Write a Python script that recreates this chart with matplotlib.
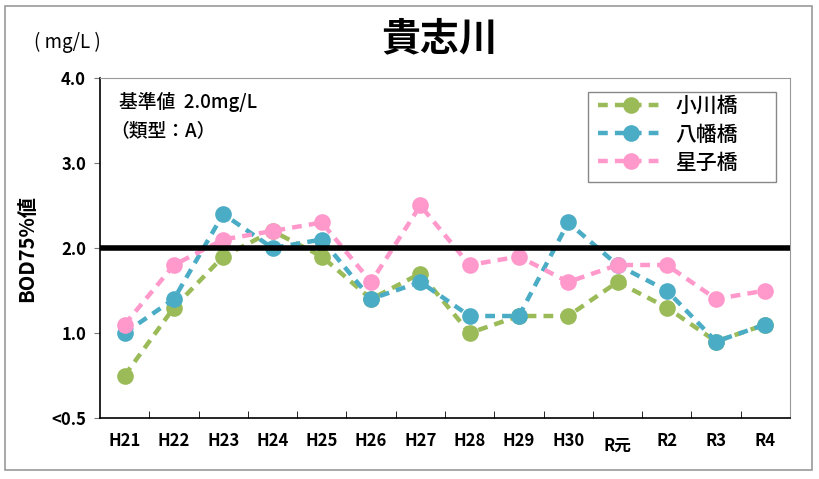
# 貴志川 BOD75%値 trend chart, three monitoring points vs. the 2.0 mg/L standard.

import matplotlib
matplotlib.use("Agg")
import matplotlib.pyplot as plt
from matplotlib.patches import Rectangle

plt.rcParams['font.family'] = ['Noto Sans CJK JP', 'DejaVu Sans']

# --- Data --------------------------------------------------------------------
YEARS = ["H21", "H22", "H23", "H24", "H25", "H26", "H27",
         "H28", "H29", "H30", "R元", "R2", "R3", "R4"]
OGAWA = [0.5, 1.3, 1.9, 2.2, 1.9, 1.4, 1.7, 1.0, 1.2, 1.2, 1.6, 1.3, 0.9, 1.1]
YAWATA = [1.0, 1.4, 2.4, 2.0, 2.1, 1.4, 1.6, 1.2, 1.2, 2.3, 1.8, 1.5, 0.9, 1.1]
HOSHIKO = [1.1, 1.8, 2.1, 2.2, 2.3, 1.6, 2.5, 1.8, 1.9, 1.6, 1.8, 1.8, 1.4, 1.5]
SERIES_NAMES = ["小川橋", "八幡橋", "星子橋"]
STANDARD = 2.0
Y_TICKS = [0.0, 1.0, 2.0, 3.0, 4.0]
Y_TICK_LABELS = ["<0.5", "1.0", "2.0", "3.0", "4.0"]

# --- Style -------------------------------------------------------------------
COLORS = ["#9BBB59", "#4BACC6", "#FF99CC"]
W, H = 819, 479  # figure size in pixels, used to place the legend box

fig = plt.figure(figsize=(8.19, 4.79), dpi=100)
ax = fig.add_axes([0.1221, 0.1273, 0.8425, 0.7099])

x = list(range(len(YEARS)))
for values, name, color in zip([OGAWA, YAWATA, HOSHIKO], SERIES_NAMES, COLORS):
    ax.plot(x, values, color=color, linestyle=(0, (2.2, 1.6)), linewidth=3.2,
            marker="o", markersize=12, markeredgewidth=0, label=name,
            zorder=3)

# reference line drawn on top of the markers, as in the source chart
ax.axhline(STANDARD, color="black", linewidth=4, zorder=5)

ax.set_xlim(-0.5, len(YEARS) - 0.5)
ax.set_ylim(0, 4.0)
ax.set_yticks(Y_TICKS)
ax.set_yticklabels(Y_TICK_LABELS, fontsize=12, fontweight="bold")
ax.set_xticks(x)
ax.set_xticklabels(YEARS, fontsize=12, fontweight="bold")
ax.get_xticklabels()[YEARS.index("R元")].set_y(-0.015)
ax.tick_params(axis="x", length=0, pad=10)
ax.set_xticks([i + 0.5 for i in x[:-1]], minor=True)
ax.tick_params(axis="x", which="minor", direction="in", length=5, color="black")
ax.tick_params(axis="y", direction="out", length=4, pad=6, color="#777777")

for side in ["top", "right"]:
    ax.spines[side].set_color("#999999")
for side in ["left", "bottom"]:
    ax.spines[side].set_color("black")
    ax.spines[side].set_linewidth(1.2)

ax.set_ylabel("BOD75%値", fontsize=14.5, fontweight="bold", labelpad=10)

# legend without its own frame; the box is drawn separately so it can be wider
leg = fig.legend(loc="upper left", bbox_to_anchor=(592 / W, 1 - 89 / H),
                 prop={"size": 15, "weight": "medium"}, frameon=False,
                 handlelength=3.1, handletextpad=0.6, labelspacing=0.3,
                 borderaxespad=0, borderpad=0.3)
fig.patches.append(Rectangle((588 / W, 1 - 182 / H), 188 / W, 90 / H,
                             transform=fig.transFigure, fill=False,
                             edgecolor="#888888", linewidth=1, zorder=6))

ax.text(0.027, 0.93, "基準値  2.0mg/L", transform=ax.transAxes,
        fontsize=13.5, fontweight="medium", va="center")
ax.text(0.015, 0.846, "（類型：A）", transform=ax.transAxes,
        fontsize=13.5, fontweight="medium", va="center")

fig.text(0.537, 0.918, "貴志川", fontsize=28, fontweight="bold",
         ha="center", va="center")
fig.text(0.042, 0.912, "( mg/L )", fontsize=13.5, va="center")

# outer frame around the whole picture
fig.patches.append(Rectangle((0.006, 0.018), 0.985, 0.97,
                             transform=fig.transFigure, fill=False,
                             edgecolor="#999999", linewidth=1.2))

fig.savefig("out.png", dpi=100)
